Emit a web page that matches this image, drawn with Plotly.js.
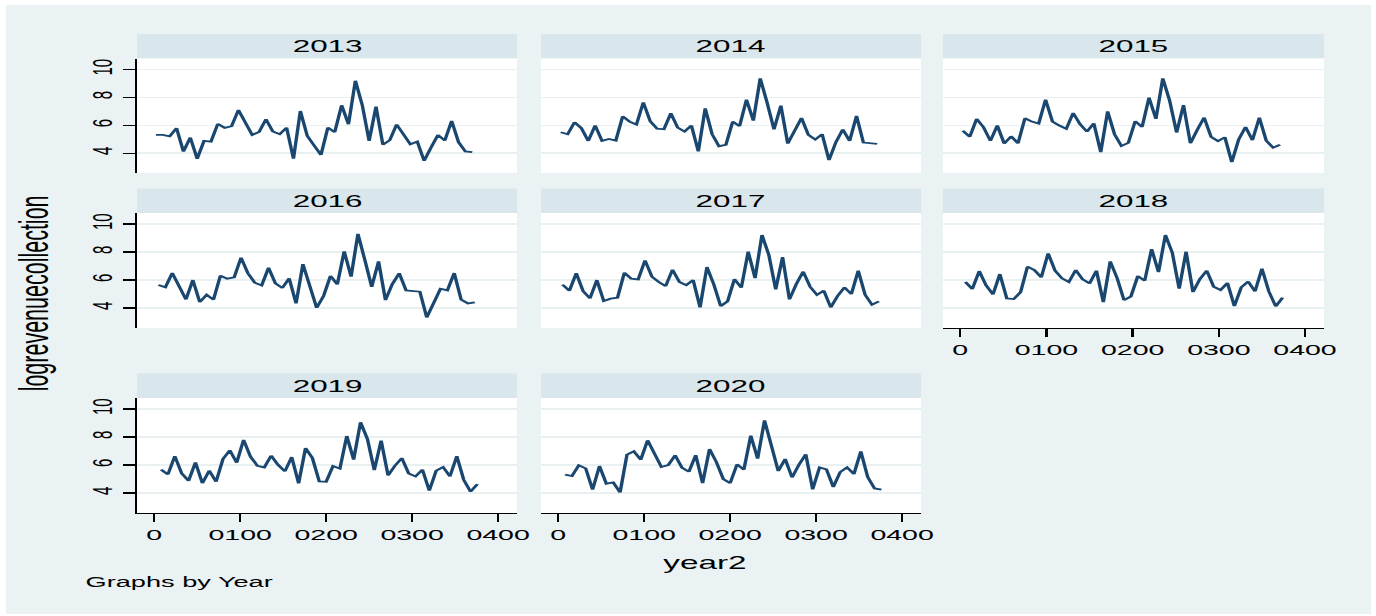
<!DOCTYPE html>
<html><head><meta charset="utf-8">
<script src="https://cdn.plot.ly/plotly-3.0.1.min.js"></script>
<style>
html,body{margin:0;padding:0;background:#fff;overflow:hidden;}
#chart{width:724px;height:616px;transform:scaleX(1.90055);transform-origin:0 0;}
</style></head><body><div id="chart"></div>
<script>
const years = ['2013','2014','2015','2016','2017','2018','2019','2020'];

const x2013 = [2,10,18,26,34,42,50,58,66,74,82,90,98,106,114,122,130,138,146,154,162,170,178,186,194,202,210,218,226,234,242,250,258,266,274,282,290,298,306,314,322,330,338,346,354,362,370];
const x2014 = [3,11,19,27,35,43,51,59,67,75,83,91,99,107,115,123,131,139,147,155,163,171,179,187,195,203,211,219,227,235,243,251,259,267,275,283,291,299,307,315,323,331,339,347,355,363,371];
const x2015 = [3,11,19,27,35,43,51,59,67,75,83,91,99,107,115,123,131,139,147,155,163,171,179,187,195,203,211,219,227,235,243,251,259,267,275,283,291,299,307,315,323,331,339,347,355,363,371];
const x2016 = [5,13,21,29,37,45,53,61,69,77,85,93,101,109,117,125,133,141,149,157,165,173,181,189,197,205,213,221,229,237,245,253,261,269,277,285,293,301,309,317,325,333,341,349,357,365,373];
const x2017 = [5,13,21,29,37,45,53,61,69,77,85,93,101,109,117,125,133,141,149,157,165,173,181,189,197,205,213,221,229,237,245,253,261,269,277,285,293,301,309,317,325,333,341,349,357,365,373];
const x2018 = [6,14,22,30,38,46,54,62,70,78,86,94,102,110,118,126,134,142,150,158,166,174,182,190,198,206,214,222,230,238,246,254,262,270,278,286,294,302,310,318,326,334,342,350,358,366,374];
const x2019 = [8,16,24,32,40,48,56,64,72,80,88,96,104,112,120,128,136,144,152,160,168,176,184,192,200,208,216,224,232,240,248,256,264,272,280,288,296,304,312,320,328,336,344,352,360,368,376];
const x2020 = [8,16,24,32,40,48,56,64,72,80,88,96,104,112,120,128,136,144,152,160,168,176,184,192,200,208,216,224,232,240,248,256,264,272,280,288,296,304,312,320,328,336,344,352,360,368,376];

const y2013 = [5.31,5.31,5.21,5.79,4.12,5.12,3.60,4.88,4.83,6.10,5.81,5.93,7.10,6.19,5.31,5.52,6.43,5.55,5.36,5.83,3.60,7.02,5.24,4.55,3.88,5.83,5.50,7.43,6.07,9.19,7.45,4.88,7.33,4.60,4.93,6.05,5.31,4.64,4.83,3.45,4.40,5.31,4.90,6.31,4.79,4.12,4.07];
const y2014 = [5.50,5.36,6.21,5.79,4.88,5.98,4.88,5.02,4.90,6.64,6.26,6.05,7.64,6.29,5.76,5.71,6.86,5.83,5.55,5.98,4.12,7.21,5.36,4.50,4.60,6.26,5.93,7.83,6.33,9.36,7.62,5.71,7.40,4.69,5.60,6.52,5.31,4.98,5.36,3.50,4.79,5.69,4.88,6.67,4.76,4.71,4.67];
const y2015 = [5.60,5.17,6.45,5.86,4.88,5.98,4.69,5.21,4.71,6.50,6.26,6.12,7.83,6.26,5.98,5.74,6.88,6.07,5.55,6.14,4.07,7.00,5.36,4.52,4.74,6.29,5.88,7.98,6.45,9.36,7.74,5.48,7.45,4.71,5.67,6.55,5.17,4.86,5.14,3.36,4.98,5.88,4.93,6.55,4.90,4.40,4.60];
const y2016 = [5.64,5.48,6.50,5.57,4.62,6.00,4.43,4.95,4.60,6.31,6.10,6.19,7.60,6.48,5.81,5.62,6.88,5.76,5.43,6.12,4.33,7.14,5.48,4.02,4.86,6.29,5.69,8.05,6.24,9.29,7.43,5.52,7.33,4.57,5.71,6.48,5.26,5.19,5.17,3.33,4.33,5.38,5.26,6.50,4.60,4.33,4.40];
const y2017 = [5.67,5.24,6.48,5.21,4.69,6.00,4.50,4.67,4.74,6.52,6.10,6.05,7.40,6.24,5.86,5.57,6.74,5.86,5.64,6.00,4.05,6.93,5.69,4.14,4.48,6.07,5.45,8.02,6.14,9.21,7.79,5.33,7.64,4.62,5.71,6.60,5.52,4.95,5.24,4.05,4.86,5.48,5.00,6.67,4.95,4.24,4.48];
const y2018 = [5.86,5.36,6.64,5.62,4.98,6.43,4.69,4.64,5.14,6.95,6.71,6.19,7.90,6.67,6.12,5.86,6.71,6.05,5.76,6.67,4.43,7.33,6.14,4.57,4.83,6.29,5.95,8.21,6.57,9.21,7.95,5.38,8.02,5.14,6.07,6.67,5.52,5.29,5.79,4.14,5.48,5.90,5.19,6.81,5.19,4.12,4.74];
const y2019 = [5.67,5.33,6.64,5.40,4.88,6.19,4.71,5.60,4.81,6.43,7.05,6.17,7.79,6.60,5.95,5.83,6.67,6.02,5.55,6.57,4.69,7.21,6.50,4.83,4.81,5.93,5.74,8.07,6.38,9.05,7.86,5.64,7.74,5.26,5.95,6.50,5.40,5.19,5.67,4.17,5.60,5.86,5.19,6.64,4.95,4.10,4.64];
const y2020 = [5.31,5.21,5.98,5.76,4.24,5.93,4.67,4.76,4.05,6.74,6.98,6.38,7.76,6.74,5.86,6.00,6.69,5.81,5.52,6.71,4.71,7.14,6.21,5.00,4.71,6.05,5.67,8.10,6.45,9.19,7.45,5.57,6.43,5.12,6.02,6.76,4.26,5.83,5.69,4.43,5.50,5.83,5.36,6.98,5.14,4.33,4.24];

const xTickVals = [0,100,200,300,400];
const xTickText = ['0','0100','0200','0300','0400'];
const yTickVals = [4,6,8,10];
const yTickText = ['4','6','8','10'];

const xs = [x2013,x2014,x2015,x2016,x2017,x2018,x2019,x2020];
const ys = [y2013,y2014,y2015,y2016,y2017,y2018,y2019,y2020];

const W = 1376, H = 616;
const colPx = [[137,517],[541,921],[943,1324]];
const rowPx = [[58.5,173],[213,328],[398,513]];
const headH = 24.5;
const FONT = '"Liberation Sans", Arial, sans-serif';
const LINE = '#1a476f';

const traces = [];
const layout = {
  width: 724, height: H,
  margin: {l:0,r:0,t:0,b:0},
  paper_bgcolor: '#ffffff',
  plot_bgcolor: 'rgba(0,0,0,0)',
  showlegend: false,
  hovermode: false,
  font: {family: FONT, color: '#000'},
  shapes: [{type:'rect', xref:'paper', yref:'paper', layer:'below',
    x0: 6/W, x1: 1371/W, y0: 1-614/H, y1: 1-5/H,
    fillcolor:'#eaf2f3', line:{width:0}}],
  annotations: []
};

for (let i = 0; i < years.length; i++) {
  const r = Math.floor(i/3), c = i % 3;
  const sfx = i === 0 ? '' : String(i+1);
  const xd = [colPx[c][0]/W, colPx[c][1]/W];
  const yd = [1 - rowPx[r][1]/H, 1 - rowPx[r][0]/H];
  const bottom = (i >= 5);
  const left = (c === 0);
  traces.push({x: xs[i], y: ys[i], type:'scatter', mode:'lines',
    line:{color:LINE, width:1.8}, xaxis:'x'+sfx, yaxis:'y'+sfx});
  layout['xaxis'+sfx] = {
    domain: xd, anchor: 'y'+sfx, range: [-20,422], showgrid:false, zeroline:false,
    tickmode:'array', tickvals: xTickVals, ticktext: xTickText,
    showline: bottom, showticklabels: bottom, ticks: bottom ? 'outside' : '',
    linecolor:'#000', linewidth:1.2, tickcolor:'#000', tickwidth:1.2, ticklen:7.5,
    tickfont:{size:15, family:FONT, color:'#000'}, fixedrange:true
  };
  layout['yaxis'+sfx] = {
    domain: yd, anchor: 'x'+sfx, range: [2.58,10.78], zeroline:false,
    showgrid:true, gridcolor:'#e8f0f2', gridwidth:1.5,
    tickmode:'array', tickvals: yTickVals, ticktext: yTickText,
    showline: left, showticklabels: left, ticks: left ? 'outside' : '', tickangle:-90,
    linecolor:'#000', linewidth:1.2, tickcolor:'#000', tickwidth:1.2, ticklen:6,
    tickfont:{size:15, family:FONT, color:'#000'}, fixedrange:true
  };
  layout.shapes.push({type:'rect', xref:'paper', yref:'paper', layer:'below',
    x0: xd[0], x1: xd[1], y0: 1-rowPx[r][0]/H, y1: 1-(rowPx[r][0]-headH)/H,
    fillcolor:'#d9e6eb', line:{width:0}});
  layout.shapes.push({type:'rect', xref:'paper', yref:'paper', layer:'below',
    x0: xd[0], x1: xd[1], y0: yd[0], y1: yd[1],
    fillcolor:'#ffffff', line:{width:0}});
  layout.annotations.push({text: years[i], xref:'paper', yref:'paper',
    x: (xd[0]+xd[1])/2, y: 1-(rowPx[r][0]-headH/2)/H, xanchor:'center', yanchor:'middle',
    showarrow:false, font:{size:16.5, family:FONT, color:'#000'}});
}

layout.annotations.push({text:'logrevenuecollection', xref:'paper', yref:'paper',
  x: 35/W, y: 1-293/H, xanchor:'center', yanchor:'middle', textangle:-90,
  showarrow:false, font:{size:21.5, family:FONT, color:'#000'}});
layout.annotations.push({text:'year2', xref:'paper', yref:'paper',
  x: 705/W, y: 1-563/H, xanchor:'center', yanchor:'middle',
  showarrow:false, font:{size:17.5, family:FONT, color:'#000'}});
layout.annotations.push({text:'Graphs by Year', xref:'paper', yref:'paper',
  x: 82/W, y: 1-582/H, xanchor:'left', yanchor:'middle', align:'left',
  showarrow:false, font:{size:14.3, family:FONT, color:'#000'}});

Plotly.newPlot('chart', traces, layout, {staticPlot:true, displayModeBar:false});
</script></body></html>
